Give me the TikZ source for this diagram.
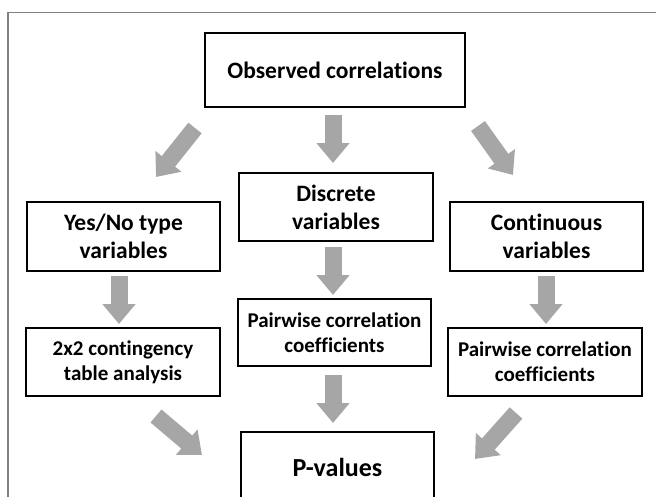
\documentclass[tikz,border=0pt]{standalone}
\usepackage{fontspec}
\setmainfont{Carlito}[Ligatures=NoCommon]
\usetikzlibrary{arrows.meta}
\definecolor{arrowgray}{RGB}{166,166,166}
\definecolor{framegray}{RGB}{128,128,128}
\tikzset{
  box/.style={draw=black, line width=2.2pt, align=center, inner sep=0pt, fill=white},
  bigtext/.style={font=\bfseries\fontsize{23.5}{28}\selectfont},
  smalltext/.style={font=\bfseries\fontsize{21}{25}\selectfont},
  hugetext/.style={font=\bfseries\fontsize{26}{30}\selectfont},
  garrow/.style={draw=arrowgray, line width=17pt, line cap=butt,
    -{Triangle[width=32pt,length=20pt,fill=arrowgray]}},
}
\begin{document}
\begin{tikzpicture}[x=1pt,y=-1pt]
\useasboundingbox (0,0) rectangle (656,496);
\clip (0,0) rectangle (656,496);
\fill[white] (0,0) rectangle (656,496);
\draw[framegray, line width=1.5pt] (8,500) -- (8,12.5) -- (660,12.5);

\node[box, bigtext, minimum width=260pt, minimum height=74pt] (obs) at (335,70) {Observed correlations};
\node[box, bigtext, minimum width=194pt, minimum height=68pt] (disc) at (336,207) {Discrete\\variables};
\node[box, bigtext, minimum width=193pt, minimum height=69pt] (yesno) at (123.5,236.5) {Yes/No type\\variables};
\node[box, bigtext, minimum width=193pt, minimum height=69pt] (cont) at (546.5,236.5) {Continuous\\variables};
\node[box, smalltext, minimum width=193pt, minimum height=67pt] (pw1) at (334.5,332.5) {Pairwise correlation\\coefficients};
\node[box, smalltext, minimum width=194pt, minimum height=68pt] (tbl) at (123,362) {2x2 contingency\\table analysis};
\node[box, smalltext, minimum width=194pt, minimum height=68pt] (pw2) at (545,362) {Pairwise correlation\\coefficients};
\node[box, hugetext, minimum width=193pt, minimum height=70pt] (pval) at (337.5,467) {P-values};

\coordinate (a1s) at (195,128); \coordinate (a1e) at (156,177);
\coordinate (a2s) at (333,115); \coordinate (a2e) at (333,163);
\coordinate (a3s) at (478,126); \coordinate (a3e) at (513,175);
\coordinate (a4s) at (119,276); \coordinate (a4e) at (119,324);
\coordinate (a5s) at (333,247); \coordinate (a5e) at (333,295);
\coordinate (a6s) at (546,276); \coordinate (a6e) at (546,324);
\coordinate (a7s) at (156,416); \coordinate (a7e) at (202,455);
\coordinate (a8s) at (333,375); \coordinate (a8e) at (333,423);
\coordinate (a9s) at (516,413); \coordinate (a9e) at (475,459);

\draw[garrow] (a1s) -- (a1e);
\draw[garrow] (a2s) -- (a2e);
\draw[garrow] (a3s) -- (a3e);
\draw[garrow] (a4s) -- (a4e);
\draw[garrow] (a5s) -- (a5e);
\draw[garrow] (a6s) -- (a6e);
\draw[garrow] (a7s) -- (a7e);
\draw[garrow] (a8s) -- (a8e);
\draw[garrow] (a9s) -- (a9e);
\end{tikzpicture}
\end{document}
